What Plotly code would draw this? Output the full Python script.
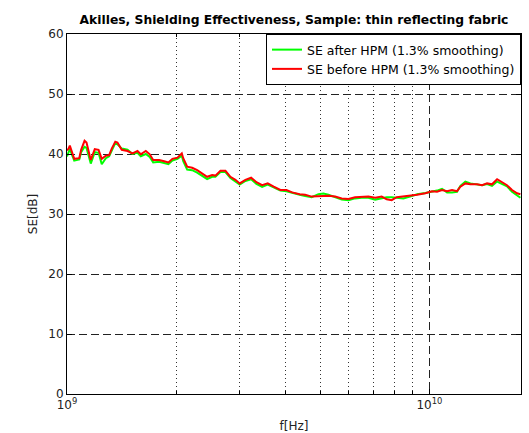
import plotly.graph_objects as go

# Frequencies in GHz
freq_ghz = [1.00, 1.01, 1.018, 1.047, 1.081, 1.094, 1.118, 1.132, 1.163, 1.193,
            1.222, 1.247, 1.280, 1.307, 1.329, 1.359, 1.378, 1.416, 1.469, 1.516,
            1.565, 1.598, 1.650, 1.692, 1.729, 1.796, 1.854, 1.905, 1.954, 2.018,
            2.074, 2.093, 2.146, 2.215, 2.287, 2.360, 2.436, 2.515, 2.568, 2.651,
            2.737, 2.825, 2.916, 2.997, 3.107, 3.222, 3.333, 3.455, 3.580, 3.720,
            3.881, 4.032, 4.181, 4.387, 4.541, 4.735, 4.941, 5.100, 5.266, 5.495,
            5.730, 5.979, 6.237, 6.505, 6.788, 7.084, 7.387, 7.626, 7.870, 8.125,
            8.478, 8.846, 9.250, 9.750, 10.17, 10.50, 10.84, 11.19, 11.55, 11.92,
            12.18, 12.57, 12.98, 13.54, 13.98, 14.43, 14.89, 15.38, 15.87, 16.38,
            16.91, 17.46, 17.83]

se_after = [39.6, 40.5, 40.8, 38.9, 39.1, 40.3, 41.2, 41.0, 38.4, 40.3,
            40.2, 38.3, 39.3, 39.6, 40.6, 41.8, 41.6, 40.9, 40.7, 40.0,
            40.2, 39.6, 40.0, 39.5, 38.6, 38.7, 38.5, 38.3, 38.9, 39.2,
            39.7, 38.8, 37.4, 37.3, 36.9, 36.4, 35.8, 36.2, 36.2, 37.0,
            37.0, 36.0, 35.4, 34.9, 35.5, 35.8, 35.0, 34.5, 34.9, 34.4,
            33.9, 33.8, 33.5, 33.2, 33.0, 32.8, 33.3, 33.4, 33.2, 32.8,
            32.4, 32.3, 32.6, 32.7, 32.7, 32.4, 32.6, 32.8, 32.8, 32.7,
            32.6, 32.9, 33.3, 33.5, 33.7, 33.9, 34.2, 33.6, 33.6, 33.7,
            34.7, 35.4, 35.1, 35.0, 34.8, 35.0, 34.7, 35.4, 35.0, 34.6,
            33.7, 33.1, 32.7]

se_before = [40.6, 40.9, 41.4, 39.2, 39.3, 40.7, 42.2, 41.9, 39.0, 40.8,
             40.7, 39.2, 39.7, 39.8, 40.9, 42.05, 41.9, 40.7, 40.5, 40.1,
             40.5, 39.95, 40.5, 39.95, 39.0, 39.0, 38.8, 38.6, 39.2, 39.4,
             40.1, 39.3, 37.9, 37.7, 37.3, 36.8, 36.2, 36.5, 36.4, 37.2,
             37.2, 36.2, 35.7, 35.1, 35.7, 36.05, 35.3, 34.8, 35.1, 34.55,
             34.0, 34.0, 33.6, 33.3, 33.2, 32.9, 32.9, 33.0, 33.05, 32.9,
             32.6, 32.5, 32.8, 32.8, 32.9, 32.7, 32.9, 32.45, 32.3, 32.8,
             32.9, 33.05, 33.2, 33.45, 33.8, 33.7, 34.0, 33.8, 34.0, 33.8,
             34.55, 35.1, 34.95, 34.95, 34.8, 35.1, 34.95, 35.8, 35.3, 34.8,
             34.0, 33.45, 33.3]

y_ticks = [0, 10, 20, 30, 40, 50, 60]
x_major = [1e9, 1e10]
x_major_text = ["10<sup>9</sup>", "10<sup>10</sup>"]
x_minor = [2e9, 3e9, 4e9, 5e9, 6e9, 7e9, 8e9, 9e9]

freq_hz = [f * 1e9 for f in freq_ghz]

fig = go.Figure()
fig.add_trace(go.Scatter(x=freq_hz, y=se_after, mode="lines",
                         line=dict(color="#00ff00", width=2),
                         name="SE after HPM (1.3% smoothing)"))
fig.add_trace(go.Scatter(x=freq_hz, y=se_before, mode="lines",
                         line=dict(color="#ff0000", width=2),
                         name="SE before HPM (1.3% smoothing)"))

font_family = "DejaVu Sans, Verdana, sans-serif"

fig.update_layout(
    width=529, height=433,
    margin=dict(l=67, r=8, t=34, b=39),
    paper_bgcolor="white", plot_bgcolor="white",
    font=dict(family=font_family, size=12, color="#222"),
    title=dict(text="<b>Akilles, Shielding Effectiveness, Sample: thin reflecting fabric</b>",
               xref="paper", x=0.5, xanchor="center", y=0.955, yanchor="middle",
               font=dict(size=12.3, color="black")),
    showlegend=True,
    legend=dict(x=1, y=1, xanchor="right", yanchor="top",
                bgcolor="white", bordercolor="black", borderwidth=1,
                font=dict(size=12.5, color="black"),
                tracegroupgap=0, itemwidth=30),
)

fig.update_xaxes(
    type="log", range=[9, 10.2529], automargin=False,
    tickmode="array", tickvals=x_major, ticktext=x_major_text,
    ticks="inside", ticklen=5, tickcolor="black",
    showline=True, linecolor="black", linewidth=1, mirror="ticks",
    showgrid=True, gridcolor="#222", griddash="8px,4px", gridwidth=1,
    zeroline=False,
    minor=dict(tickvals=x_minor, ticks="inside", ticklen=3, tickcolor="black",
               showgrid=True, gridcolor="#333", griddash="1px,3px", gridwidth=1),
    title=dict(text="f[Hz]", standoff=10, font=dict(size=12)),
    tickfont=dict(size=12),
)
fig.update_yaxes(
    range=[0, 60], tickmode="array", tickvals=y_ticks, automargin=False,
    ticks="inside", ticklen=5, tickcolor="black",
    showline=True, linecolor="black", linewidth=1, mirror="ticks",
    showgrid=True, gridcolor="#222", griddash="8px,4px", gridwidth=1,
    zeroline=False,
    title=dict(text="SE[dB]", standoff=8, font=dict(size=12)),
    tickfont=dict(size=12),
)

fig.write_html("out.html")
